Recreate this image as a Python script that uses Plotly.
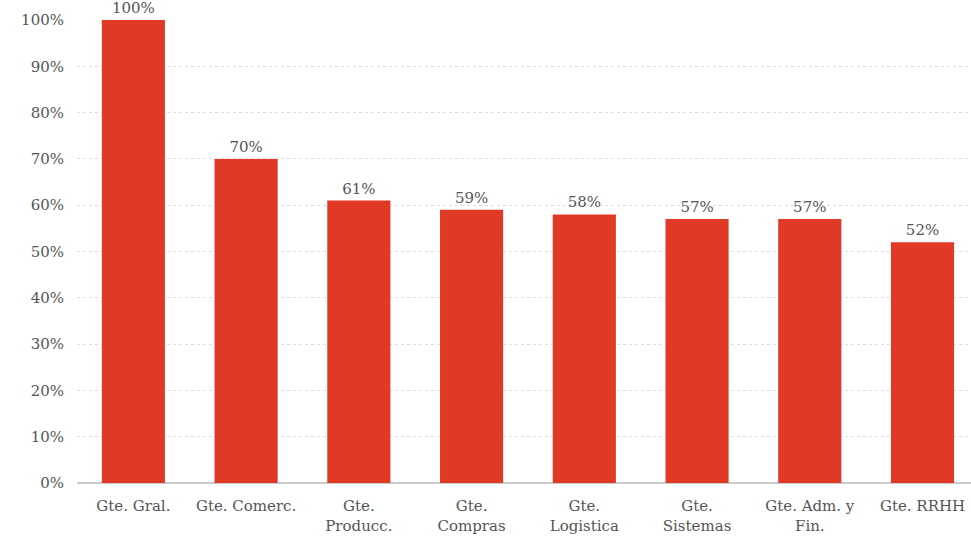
import plotly.graph_objects as go

categories = ["Gte. Gral.", "Gte. Comerc.", "Gte.<br>Producc.", "Gte.<br>Compras",
              "Gte.<br>Logistica", "Gte.<br>Sistemas", "Gte. Adm. y<br>Fin.", "Gte. RRHH"]
values = [100, 70, 61, 59, 58, 57, 57, 52]
labels = [f"{v}%" for v in values]
y_ticks = list(range(0, 101, 10))
y_tick_text = [f"{t}%" for t in y_ticks]

font_family = "DejaVu Serif"

fig = go.Figure(go.Bar(
    x=categories, y=values, text=labels, textposition="outside",
    textfont=dict(family=font_family, size=15, color="#555555"),
    marker=dict(color="#E03A27", line=dict(width=0)),
    cliponaxis=False,
))

fig.update_layout(
    width=971, height=538,
    margin=dict(l=77, r=0, t=20, b=55),
    paper_bgcolor="white", plot_bgcolor="white",
    bargap=0.44,
    showlegend=False,
    font=dict(family=font_family, size=15, color="#555555"),
)
fig.update_xaxes(
    range=[-0.5, 7.43], showgrid=False, showline=False,
    tickfont=dict(family=font_family, size=15, color="#555555"),
    ticklabelstandoff=12,
)
fig.update_yaxes(
    range=[0, 100], tickvals=y_ticks, ticktext=y_tick_text,
    showgrid=True, gridcolor="#dddddd", griddash="dot", gridwidth=1,
    zeroline=True, zerolinecolor="#cccccc", zerolinewidth=1.5,
    tickfont=dict(family=font_family, size=15, color="#555555"),
    ticklabelstandoff=12,
)

fig.write_html("out.html")
